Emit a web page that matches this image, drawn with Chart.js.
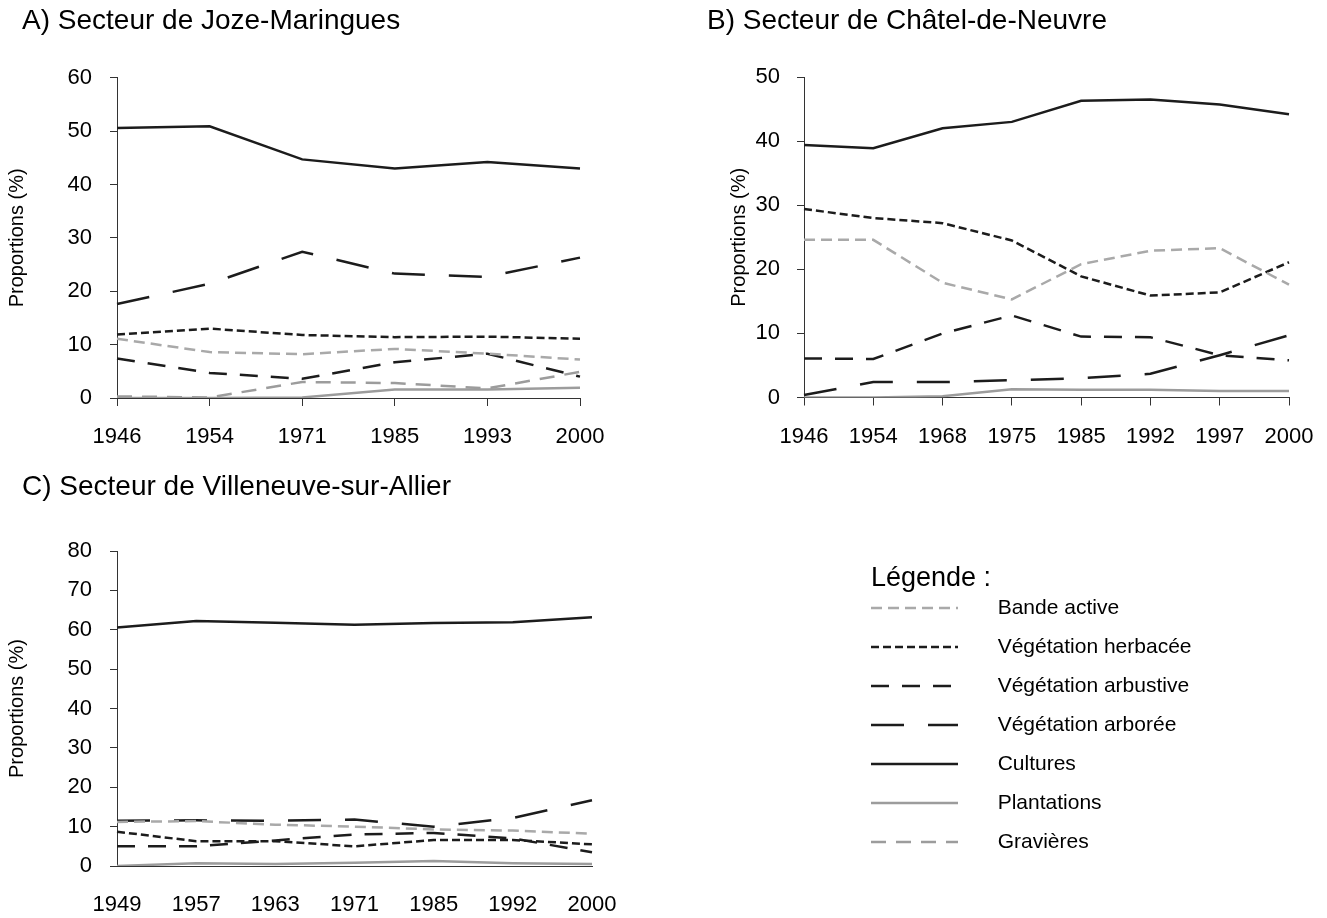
<!DOCTYPE html>
<html>
<head>
<meta charset="utf-8">
<script src="https://cdn.jsdelivr.net/npm/chart.js@4.4.1/dist/chart.umd.min.js"></script>
<style>
  html, body { margin: 0; padding: 0; background: #fff; overflow: hidden; }
  body { width: 1327px; height: 918px; position: relative; }
  .box { position: absolute; }
</style>
</head>
<body>
<div class="box" style="left:0;top:0;width:640px;height:460px"><canvas id="chartA"></canvas></div>
<div class="box" style="left:680px;top:0;width:647px;height:460px"><canvas id="chartB"></canvas></div>
<div class="box" style="left:0;top:460px;width:640px;height:458px"><canvas id="chartC"></canvas></div>
<div class="box" style="left:860px;top:540px;width:740px;height:360px"><canvas id="legend"></canvas></div>
<script>
// A) Joze-Maringues
const yearsA = ['1946', '1954', '1971', '1985', '1993', '2000'];
const bandeA = [11.1, 8.6, 8.2, 9.2, 8.3, 7.2];
const herbA = [11.9, 13.0, 11.8, 11.4, 11.5, 11.1];
const arbuA = [7.4, 4.7, 3.6, 6.7, 8.3, 4.0];
const arboA = [17.6, 21.4, 27.4, 23.3, 22.7, 26.3];
const cultA = [50.6, 50.9, 44.7, 43.0, 44.2, 43.0];
const plantA = [0, 0, 0.1, 1.6, 1.6, 1.9];
const gravA = [0.3, 0.1, 3.0, 2.8, 1.8, 4.9];

// B) Châtel-de-Neuvre
const yearsB = ['1946', '1954', '1968', '1975', '1985', '1992', '1997', '2000'];
const bandeB = [24.6, 24.6, 17.9, 15.3, 20.8, 22.9, 23.3, 17.6];
const herbB = [29.4, 28.0, 27.2, 24.5, 18.9, 15.9, 16.4, 21.1];
const arbuB = [6.1, 6.0, 10.0, 12.8, 9.5, 9.4, 6.6, 5.8];
const arboB = [0.4, 2.4, 2.4, 2.7, 3.0, 3.7, 6.6, 9.7];
const cultB = [39.4, 38.9, 42.0, 43.0, 46.3, 46.5, 45.7, 44.2];
const plantB = [0, 0, 0.2, 1.3, 1.2, 1.2, 1.0, 1.0];

// C) Villeneuve-sur-Allier
const yearsC = ['1949', '1957', '1963', '1971', '1985', '1992', '2000'];
const bandeC = [11.2, 11.4, 10.5, 10.0, 9.3, 9.0, 8.2];
const herbC = [8.7, 6.3, 6.3, 5.0, 6.6, 6.6, 5.5];
const arbuC = [5.0, 5.0, 6.5, 8.0, 8.4, 7.0, 3.5];
const arboC = [11.5, 11.6, 11.5, 11.8, 10.0, 12.2, 16.7];
const cultC = [60.6, 62.2, 61.8, 61.3, 61.7, 61.9, 63.2];
const plantC = [0, 0.7, 0.5, 0.8, 1.3, 0.7, 0.5];

const styles = {
  bande: { label: 'Bande active', color: '#a9a9a9', dash: [11, 6] },
  herb:  { label: 'Végétation herbacée', color: '#1c1c1c', dash: [8, 4] },
  arbu:  { label: 'Végétation arbustive', color: '#1c1c1c', dash: [18, 13] },
  arbo:  { label: 'Végétation arborée', color: '#1c1c1c', dash: [33, 24] },
  cult:  { label: 'Cultures', color: '#1c1c1c', dash: [] },
  plant: { label: 'Plantations', color: '#9c9c9c', dash: [] },
  grav:  { label: 'Gravières', color: '#9c9c9c', dash: [15, 10] }
};

Chart.defaults.font.family = '"Liberation Sans", Arial, Helvetica, sans-serif';
Chart.defaults.color = '#000';
Chart.defaults.animation = false;

function line(key, data) {
  const s = styles[key];
  return {
    label: s.label, data,
    borderColor: s.color, backgroundColor: s.color,
    borderDash: s.dash, borderWidth: 2.5,
    borderCapStyle: 'butt', tension: 0,
    pointRadius: 0, fill: false
  };
}

function makeChart(id, o) {
  return new Chart(document.getElementById(id), {
    type: 'line',
    data: { labels: o.labels, datasets: o.datasets },
    options: {
      responsive: true,
      maintainAspectRatio: false,
      layout: { padding: { left: o.padLeft, right: o.padRight, top: 0, bottom: 0 } },
      plugins: {
        legend: { display: false },
        tooltip: { enabled: false },
        title: {
          display: true, text: o.title, align: 'start', color: '#000',
          font: { size: 28, weight: 'normal' },
          padding: { top: o.titleTop, bottom: o.titleBottom }
        }
      },
      scales: {
        x: {
          offset: false,
          grid: { drawOnChartArea: false, drawTicks: o.xTicks, tickLength: 8, color: '#333', offset: false },
          border: { color: '#333', width: 1 },
          ticks: { font: { size: 22 }, color: '#000', padding: o.xPad, maxRotation: 0, autoSkip: false },
          afterFit: (s) => { s.height = o.xHeight; s.paddingLeft = 0; s.paddingRight = 0; }
        },
        y: {
          min: 0, max: o.max,
          grid: { drawOnChartArea: false, tickLength: 7, color: '#333' },
          border: { color: '#333', width: 1 },
          ticks: { stepSize: 10, font: { size: 22 }, color: '#000', padding: o.yPad },
          title: { display: true, text: 'Proportions (%)', font: { size: 20 }, color: '#000', padding: { top: o.yTitleTop, bottom: 0 } },
          afterFit: (s) => { s.width = o.yWidth; s.paddingTop = 0; s.paddingBottom = 0; }
        }
      }
    }
  });
}

makeChart('chartA', {
  title: 'A) Secteur de Joze-Maringues', labels: yearsA, max: 60,
  datasets: [line('bande', bandeA), line('herb', herbA), line('arbu', arbuA), line('arbo', arboA),
             line('cult', cultA), line('plant', plantA), line('grav', gravA)],
  padLeft: 22, padRight: 60, titleTop: 4.2, titleBottom: 39.9,
  xHeight: 62, xPad: 17.8, xTicks: true, yWidth: 95, yPad: 18, yTitleTop: -17
});

makeChart('chartB', {
  title: 'B) Secteur de Châtel-de-Neuvre', labels: yearsB, max: 50,
  datasets: [line('bande', bandeB), line('herb', herbB), line('arbu', arbuB), line('arbo', arboB),
             line('cult', cultB), line('plant', plantB)],
  padLeft: 27, padRight: 38, titleTop: 4.2, titleBottom: 39.2,
  xHeight: 62.5, xPad: 17.8, xTicks: true, yWidth: 97, yPad: 17, yTitleTop: 20
});

makeChart('chartC', {
  title: 'C) Secteur de Villeneuve-sur-Allier', labels: yearsC, max: 80,
  datasets: [line('bande', bandeC), line('herb', herbC), line('arbu', arbuC), line('arbo', arboC),
             line('cult', cultC), line('plant', plantC)],
  padLeft: 22, padRight: 48, titleTop: 10.2, titleBottom: 47.2,
  xHeight: 52, xPad: 25.8, xTicks: false, yWidth: 95, yPad: 18, yTitleTop: -17
});

// legend panel
const legendKeys = ['bande', 'herb', 'arbu', 'arbo', 'cult', 'plant', 'grav'];
new Chart(document.getElementById('legend'), {
  type: 'line',
  data: { labels: [], datasets: legendKeys.map((k) => line(k, [])) },
  options: {
    responsive: true,
    maintainAspectRatio: false,
    layout: { padding: { left: 11, top: 0 } },
    scales: { x: { display: false }, y: { display: false } },
    plugins: {
      tooltip: { enabled: false },
      legend: {
        position: 'left', align: 'start',
        title: { display: true, text: 'Légende :', position: 'start', color: '#000', font: { size: 27 }, padding: { top: 25, bottom: 0 } },
        labels: {
          usePointStyle: true, pointStyleWidth: 87, padding: 0, color: '#000',
          font: { size: 21, lineHeight: '39px' },
          generateLabels: (chart) => chart.data.datasets.map((ds, i) => ({
            text: ['     ' + ds.label],
            strokeStyle: ds.borderColor, fillStyle: ds.borderColor,
            lineWidth: ds.borderWidth, lineDash: ds.borderDash, lineCap: 'butt',
            pointStyle: 'line', datasetIndex: i, hidden: false
          }))
        }
      }
    }
  }
});
</script>
</body>
</html>
